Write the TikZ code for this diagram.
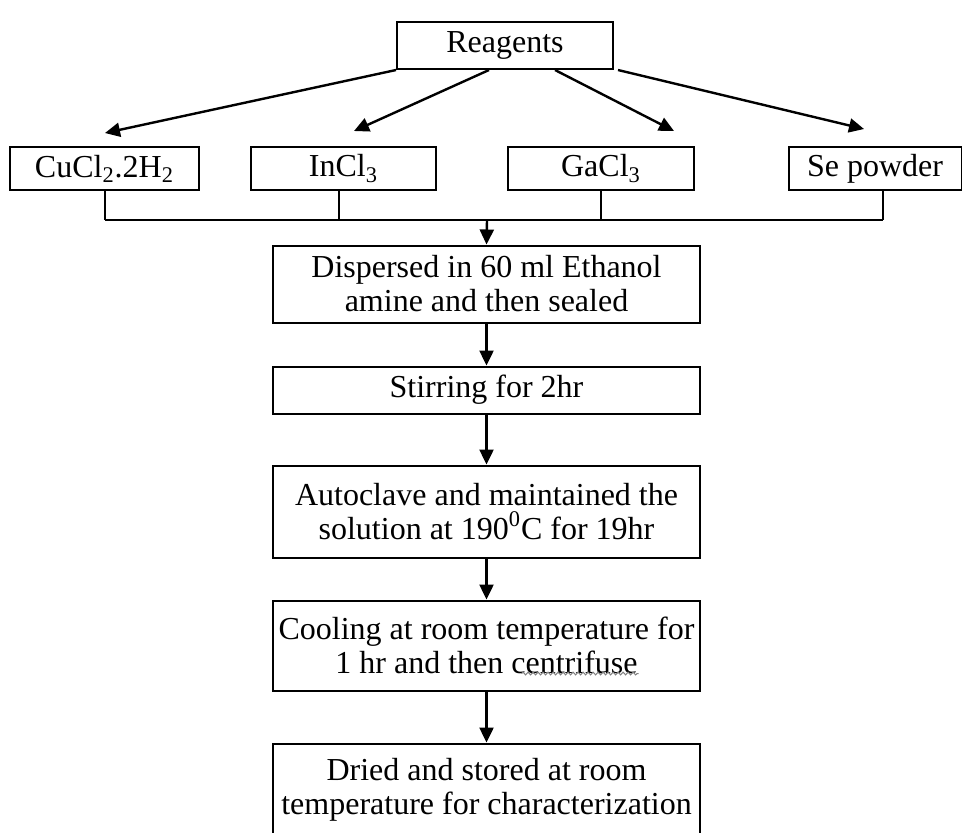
\documentclass[tikz,border=0pt]{standalone}
\usepackage{fontspec}
\setmainfont{Liberation Serif}
\usetikzlibrary{arrows.meta, decorations.pathmorphing}

\begin{document}
\begin{tikzpicture}[x=0.5pt, y=-0.5pt, node distance={60pt},
        box/.style={draw, line width=1pt, inner sep=2pt, align=center,
            font=\fontsize{16}{17}\selectfont},
        stepbox/.style={box, minimum width=213.5pt},
        arr/.style={-{Triangle[length=7.5pt,width=7pt]}, line width=1.2pt}]
        \useasboundingbox (0,0) rectangle (962,832);

        % reagents row
        \node[box, minimum width=108pt, minimum height=23.5pt] (reag) at (505,45.5) {Reagents};
        \node[box, minimum width=94.5pt, minimum height=21.5pt] (cu) at (104.5,168.5) {CuCl\textsubscript{2}.2H\textsubscript{2}};
        \node[box, minimum width=92.5pt, minimum height=21.5pt] (in) at (343.5,168.5) {InCl\textsubscript{3}};
        \node[box, minimum width=93pt, minimum height=21.5pt] (ga) at (601,168.5) {GaCl\textsubscript{3}};
        \node[box, minimum width=86.5pt, minimum height=21.5pt] (se) at (875,168.5) {Se powder};

        \coordinate (cu tip) at (105,133);
        \coordinate (in tip) at (354,131);
        \coordinate (ga tip) at (674,131);
        \coordinate (se tip) at (864,129);

        \draw[arr] (reag.south west) to (cu tip);
        \draw[arr] ([xshift=-8pt]reag.south) to (in tip);
        \draw[arr] ([xshift=25pt]reag.south) to (ga tip);
        \draw[arr] ([xshift=2pt]reag.south east) to (se tip);

        % process chain
        \node[stepbox, minimum height=38.5pt] (disp) at (486.5,284) {Dispersed in 60 ml Ethanol\\amine and then sealed};
        \node[stepbox, minimum height=23.5pt, node distance=53pt] (stir) [below of=disp] {Stirring for 2hr};
        \node[stepbox, minimum height=46pt, node distance=60.75pt] (auto) [below of=stir] {Autoclave and maintained the\\solution at 190\textsuperscript{0}C for 19hr};
        \node[stepbox, minimum height=45pt, node distance=67pt] (cool) [below of=auto] {Cooling at room temperature for\\1 hr and then centrifuse};
        \node[stepbox, minimum height=46pt, node distance=72pt] (dry) [below of=cool] {Dried and stored at room\\temperature for characterization};

        % spell-check squiggle
        \draw[gray, line width=0.5pt, decorate, decoration={snake, amplitude=0.7pt, segment length=2.5pt}]
            ([shift={(35,28)}]cool.center) -- ([shift={(152,28)}]cool.center);

        % collecting line
        \coordinate (bus) at (487,220);
        \draw[line width=1pt] (cu.south) -- (cu.south |- bus);
        \draw[line width=1pt] ([xshift=-2.5pt]in.south) -- ([xshift=-2.5pt]in.south |- bus);
        \draw[line width=1pt] (ga.south) -- (ga.south |- bus);
        \draw[line width=1pt] ([xshift=4pt]se.south) -- ([xshift=4pt]se.south |- bus);
        \draw[line width=1pt] (cu.south |- bus) -- ([xshift=4pt]se.south |- bus);

        \draw[arr] (bus) to (disp.north);
        \draw[arr] (disp) to (stir);
        \draw[arr] (stir) to (auto);
        \draw[arr] (auto) to (cool);
        \draw[arr] (cool) to (dry);
    \end{tikzpicture}
\end{document}
